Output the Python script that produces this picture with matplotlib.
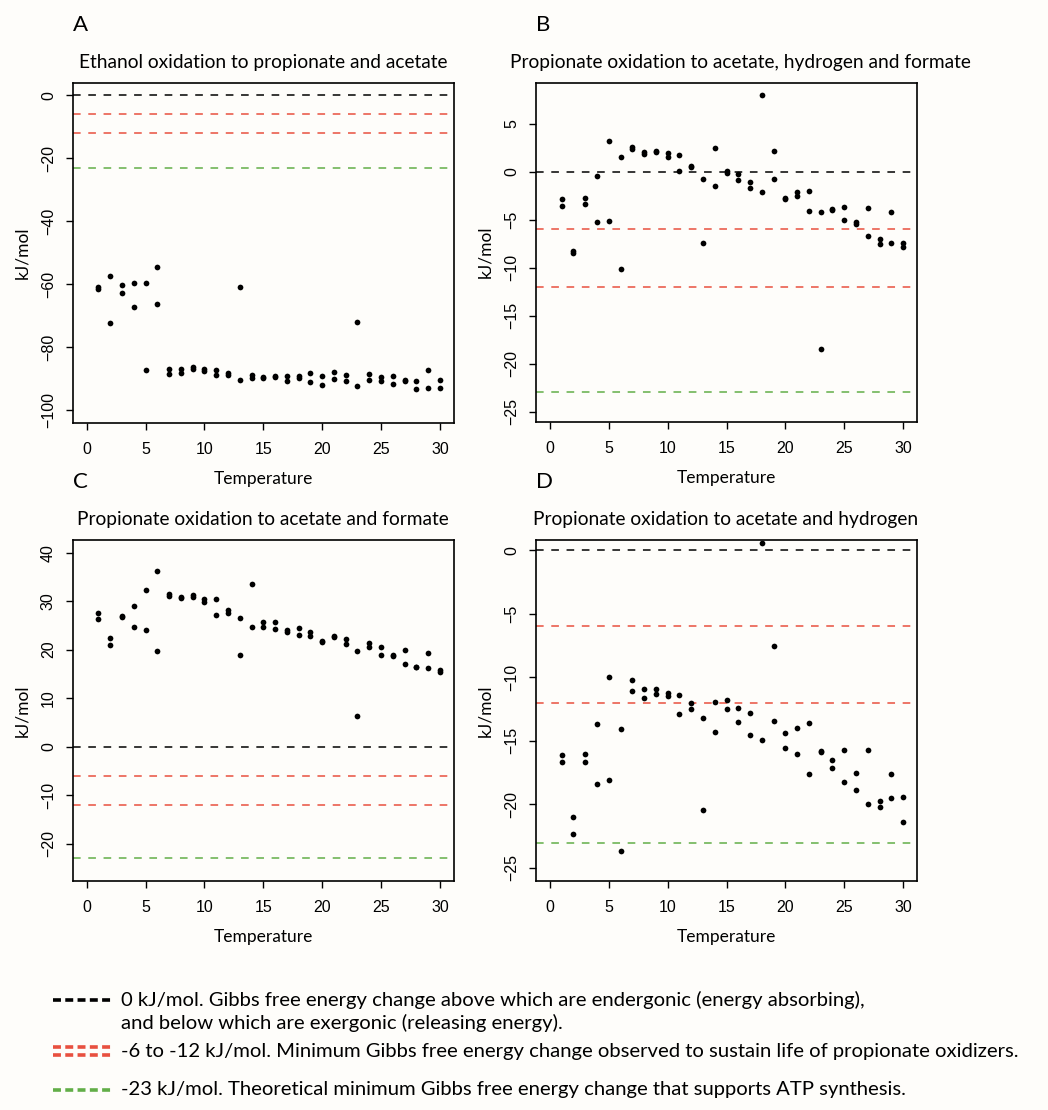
import matplotlib.pyplot as plt
from matplotlib.lines import Line2D

plt.rcParams['font.family'] = ['Lato', 'DejaVu Sans']

W, H = 1048, 1110
fig = plt.figure(figsize=(W / 100, H / 100), dpi=100, facecolor='#fefdfa')

temperature = list(range(1, 31))

# two replicate estimates per temperature for each reaction
ethanol_1 = [-60.8, -57.5, -60.3, -59.5, -59.7, -54.7, -86.9, -87.0, -86.4, -87.0,
             -87.2, -88.1, -61.0, -89.0, -89.4, -89.3, -89.1, -89.1, -88.3, -89.3,
             -87.8, -88.7, -71.9, -88.4, -89.6, -89.3, -90.4, -90.6, -87.2, -90.4]
ethanol_2 = [-61.6, -72.4, -62.9, -67.2, -87.2, -66.2, -88.5, -88.1, -87.0, -87.6,
             -89.0, -89.0, -90.3, -89.8, -89.9, -89.5, -90.7, -89.9, -91.1, -92.0,
             -90.2, -90.6, -92.3, -90.4, -90.7, -91.7, -90.6, -93.3, -92.9, -92.9]

prop_h2_formate_1 = [-2.81, -8.23, -2.74, -0.48, 3.2, 1.56, 2.54, 2.0, 2.2, 1.98,
                     1.7, 0.56, -0.73, 2.47, 0.07, -0.24, -1.07, 8.0, 2.16, -2.74,
                     -2.08, -1.98, -4.17, -3.85, -3.68, -5.27, -3.78, -6.98, -4.2, -7.39]
prop_h2_formate_2 = [-3.57, -8.5, -3.4, -5.2, -5.1, -10.1, 2.4, 1.85, 2.1, 1.53,
                     0.07, 0.5, -7.46, -1.46, -0.17, -0.86, -1.67, -2.08, -0.79, -2.8,
                     -2.53, -4.06, -18.5, -3.99, -5.03, -5.45, -6.66, -7.5, -7.39, -7.88]

prop_formate_1 = [27.5, 22.4, 27.0, 28.9, 32.3, 36.2, 31.5, 30.9, 31.3, 30.4,
                  30.4, 28.2, 26.5, 33.5, 25.8, 25.8, 24.1, 24.4, 23.6, 21.7,
                  22.9, 22.1, 19.7, 21.3, 20.6, 19.0, 19.9, 16.5, 19.3, 15.8]
prop_formate_2 = [26.3, 21.0, 26.8, 24.6, 24.1, 19.7, 31.0, 30.6, 30.9, 29.8,
                  27.2, 27.6, 19.0, 24.7, 24.7, 24.3, 23.6, 23.0, 22.8, 21.5,
                  22.7, 21.2, 6.4, 20.5, 18.9, 18.7, 17.0, 16.4, 16.3, 15.5]

prop_h2_1 = [-16.09, -21.0, -16.06, -13.7, -9.95, -14.1, -10.2, -10.9, -10.9, -11.2,
             -11.4, -12.0, -13.2, -11.95, -11.8, -12.4, -12.8, 0.6, -7.57, -14.4,
             -14.0, -13.6, -15.8, -16.5, -15.7, -17.5, -15.7, -19.7, -17.6, -19.4]
prop_h2_2 = [-16.64, -22.3, -16.66, -18.4, -18.1, -23.7, -11.1, -11.6, -11.3, -11.5,
             -12.9, -12.5, -20.4, -14.3, -12.5, -13.5, -14.5, -14.9, -13.4, -15.6,
             -16.0, -17.6, -15.9, -17.1, -18.2, -18.9, -20.0, -20.2, -19.5, -21.4]

# reference free-energy thresholds (kJ/mol)
thr_zero = 0
thr_life = [-6, -12]
thr_atp = -23

RED = '#e8503f'
GREEN = '#62ae48'
DASH = (5, 5)

panels = [
    ('A', 'Ethanol oxidation to propionate and acetate', ethanol_1, ethanol_2,
     (-104, 4), list(range(-100, 1, 20))),
    ('B', 'Propionate oxidation to acetate, hydrogen and formate',
     prop_h2_formate_1, prop_h2_formate_2, (-26.05, 9.27), list(range(-25, 6, 5))),
    ('C', 'Propionate oxidation to acetate and formate', prop_formate_1, prop_formate_2,
     (-27.6, 42.6), list(range(-20, 41, 10))),
    ('D', 'Propionate oxidation to acetate and hydrogen', prop_h2_1, prop_h2_2,
     (-26.0, 0.8), list(range(-25, 1, 5))),
]

# axes boxes in pixels: left, top, right, bottom, plus title centre
boxes = [(72.6, 82.7, 454, 422.7, 263), (535.7, 82.7, 917.3, 421.7, 740),
         (72.6, 540, 454, 880.7, 263), (535.7, 540, 917.3, 880.7, 726)]

tick_font = ['Liberation Sans', 'DejaVu Sans']

for (letter, title, s1, s2, ylim, yticks), (l, t, r, b, tc) in zip(panels, boxes):
    ax = fig.add_axes([l / W, 1 - b / H, (r - l) / W, (b - t) / H])
    ax.set_facecolor('#fefdfa')
    ax.axhline(thr_zero, color='black', lw=1.1, dashes=DASH)
    for v in thr_life:
        ax.axhline(v, color=RED, lw=1.1, dashes=DASH)
    ax.axhline(thr_atp, color=GREEN, lw=1.1, dashes=DASH)
    ax.scatter(temperature, s1, s=17, color='black', zorder=3, linewidths=0)
    ax.scatter(temperature, s2, s=17, color='black', zorder=3, linewidths=0)

    ax.set_xlim(-1.2, 31.2)
    ax.set_ylim(*ylim)
    ax.set_xticks(range(0, 31, 5))
    ax.set_yticks(yticks)
    ax.set_yticklabels([str(v).replace('-', '\u2212') for v in yticks],
                       family=tick_font, fontsize=11.5, rotation=90, va='center')
    ax.set_xticklabels([str(v) for v in range(0, 31, 5)], family=tick_font, fontsize=11.5)
    ax.tick_params(length=5, width=1.0, direction='out')
    ax.tick_params(axis='x', pad=9)
    ax.tick_params(axis='y', pad=7)
    for sp in ax.spines.values():
        sp.set_linewidth(1.2)

    ax.set_xlabel('Temperature', fontsize=12.5, labelpad=10)
    ax.set_ylabel('kJ/mol', fontsize=12.5, labelpad=8)
    fig.text(tc / W, 1 - (t - 20) / H, title, fontsize=13.8, ha='center', va='center')
    fig.text(l / W, 1 - (t - 58) / H, letter, fontsize=16, ha='left', va='center')

# legend for the threshold lines
def legend_line(y_px, color):
    fig.add_artist(Line2D([53 / W, 112 / W], [1 - y_px / H] * 2, color=color,
                          lw=2.6, dashes=(2.2, 1.2)))

LEG_FS = 14.6
legend_line(1000, 'black')
fig.text(121 / W, 1 - 1000 / H,
         '0 kJ/mol. Gibbs free energy change above which are endergonic (energy absorbing),',
         fontsize=LEG_FS, va='center')
fig.text(121 / W, 1 - 1023 / H, 'and below which are exergonic (releasing energy).',
         fontsize=LEG_FS, va='center')
legend_line(1047, RED)
legend_line(1055, RED)
fig.text(121 / W, 1 - 1051 / H,
         '-6 to -12 kJ/mol. Minimum Gibbs free energy change observed to sustain life of propionate oxidizers.',
         fontsize=LEG_FS, va='center')
legend_line(1090, GREEN)
fig.text(121 / W, 1 - 1090 / H,
         '-23 kJ/mol. Theoretical minimum Gibbs free energy change that supports ATP synthesis.',
         fontsize=LEG_FS, va='center')

fig.savefig('out.png', dpi=100, facecolor=fig.get_facecolor())
